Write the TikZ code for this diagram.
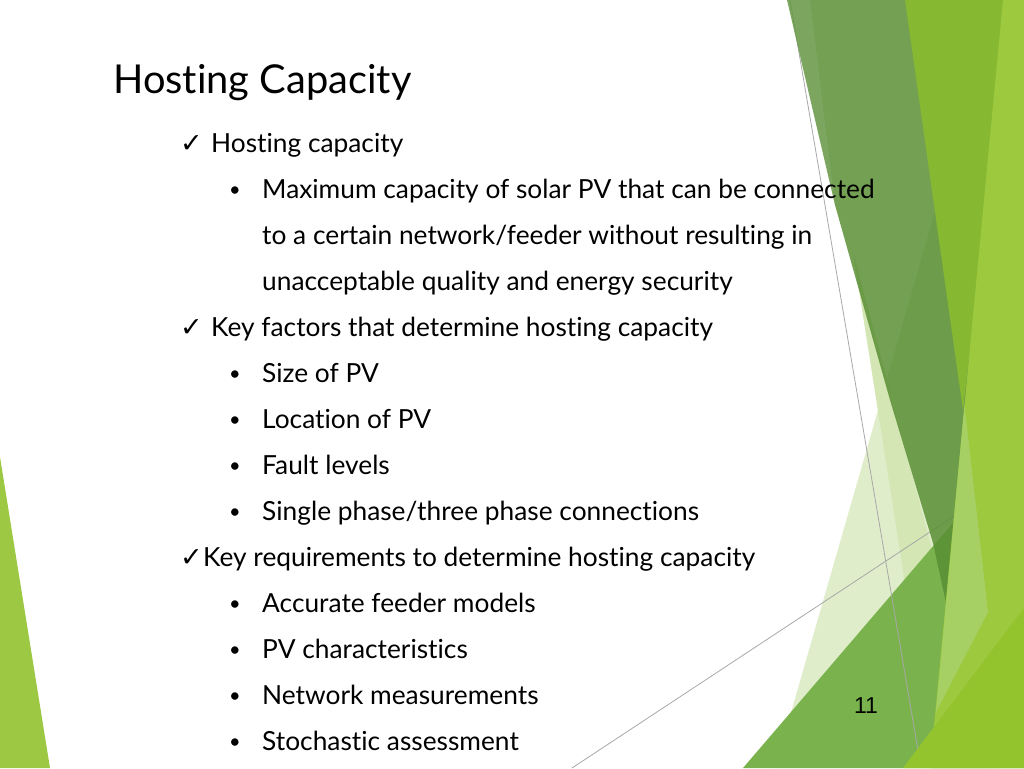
\documentclass[tikz,border=0pt]{standalone}
\usepackage{fontspec}
\setmainfont{Lato}[Ligatures=NoCommon]
\newfontfamily\tickfont{DejaVu Sans}
\newfontfamily\pagefont{Liberation Sans}
\usetikzlibrary{positioning}
\definecolor{leafleft}{HTML}{9DC843}
\definecolor{palewide}{HTML}{E0EDCB}
\definecolor{palenarrow}{HTML}{D3E6B4}
\definecolor{midgreen}{HTML}{7AB34D}
\definecolor{deepgreen}{HTML}{5A8F35}
\definecolor{olivegreen}{HTML}{86B832}
\definecolor{brightgreen}{HTML}{9CC93E}
\definecolor{softgreen}{HTML}{A7D064}
\definecolor{limegreen}{HTML}{93C42E}
\definecolor{hairgray}{HTML}{A8A8A8}
\tikzset{
	ttl/.style={anchor=base west, inner sep=0, font=\fontsize{39.8}{39.8}\selectfont},
	itemtxt/.style={anchor=base west, inner sep=0, font=\fontsize{26.3}{26.3}\selectfont},
	tickmark/.style={anchor=base west, inner sep=0, font=\tickfont\fontsize{27}{27}\selectfont},
	bul/.style={anchor=base, inner sep=0, yshift=2pt, font=\fontsize{20}{20}\selectfont},
	pagenum/.style={anchor=base, inner sep=0, font=\pagefont\fontsize{23}{23}\selectfont},
	hair/.style={draw=hairgray, line width=0.8pt}
}

\begin{document}
\begin{tikzpicture}[x=1pt,y=-1pt]
		\useasboundingbox (0,0) rectangle (1024,768);
		
		\fill [leafleft] (0,457) -- (50,768) -- (0,768) -- cycle;
		\fill [palewide] (950,160) -- (775,768) -- (1000,768) -- cycle;
		\fill [palenarrow] (853,252) -- (990,768) -- (934,768) -- cycle;
		\draw [hair] (572,768) -- (1024,470);
		\fill [midgreen] (743,768) -- (1024,440) -- (1024,768) -- cycle;
		\draw [hair] (790,0) -- (921,768);
		\fill [deepgreen, opacity=0.85] (787,0) -- (1000,0) -- (948,612) -- (933,543) -- (890,400) -- (835,205) -- cycle;
		\fill [white, opacity=0.07] (787,0) -- (810,0) -- (835,205) -- cycle;
		\fill [olivegreen] (905,0) -- (1010,0) -- (963,410) -- cycle;
		\fill [brightgreen] (1003,0) -- (1024,0) -- (1024,768) -- (930,768) -- cycle;
		\fill [softgreen] (964.5,405) -- (988,612) -- (936,712) -- cycle;
		\fill [limegreen] (903,768) -- (1024,608) -- (1024,768) -- cycle;
		
		\node [ttl] (title) at (113,93) {Hosting Capacity};
		
		\node [tickmark] (k1) at (180,152) {✓};
		\node [itemtxt] (hc) at (211,152) {Hosting capacity};
		\node [bul] (b1) at (235,198) {•};
		\node [itemtxt] (def1) at (262,198) {Maximum capacity of solar PV that can be connected};
		\node [itemtxt] (def2) at (262,244) {to a certain network/feeder without resulting in};
		\node [itemtxt] (def3) at (262,290) {unacceptable quality and energy security};
		
		\node [tickmark] (k2) at (180,336) {✓};
		\node [itemtxt] (kf) at (211,336) {Key factors that determine hosting capacity};
		\node [bul] (b2) at (235,382) {•};
		\node [itemtxt] (f1) at (262,382) {Size of PV};
		\node [bul] (b3) at (235,428) {•};
		\node [itemtxt] (f2) at (262,428) {Location of PV};
		\node [bul] (b4) at (235,474) {•};
		\node [itemtxt] (f3) at (262,474) {Fault levels};
		\node [bul] (b5) at (235,520) {•};
		\node [itemtxt] (f4) at (262,520) {Single phase/three phase connections};
		
		\node [tickmark] (k3) at (180,566) {✓};
		\node [itemtxt] (kr) at (203,566) {Key requirements to determine hosting capacity};
		\node [bul] (b6) at (235,612) {•};
		\node [itemtxt] (r1) at (262,612) {Accurate feeder models};
		\node [bul] (b7) at (235,658) {•};
		\node [itemtxt] (r2) at (262,658) {PV characteristics};
		\node [bul] (b8) at (235,704) {•};
		\node [itemtxt] (r3) at (262,704) {Network measurements};
		\node [bul] (b9) at (235,750) {•};
		\node [itemtxt] (r4) at (262,750) {Stochastic assessment};
		
		\node [pagenum] (pg) at (866,713) {11};
		
	\end{tikzpicture}
\end{document}
